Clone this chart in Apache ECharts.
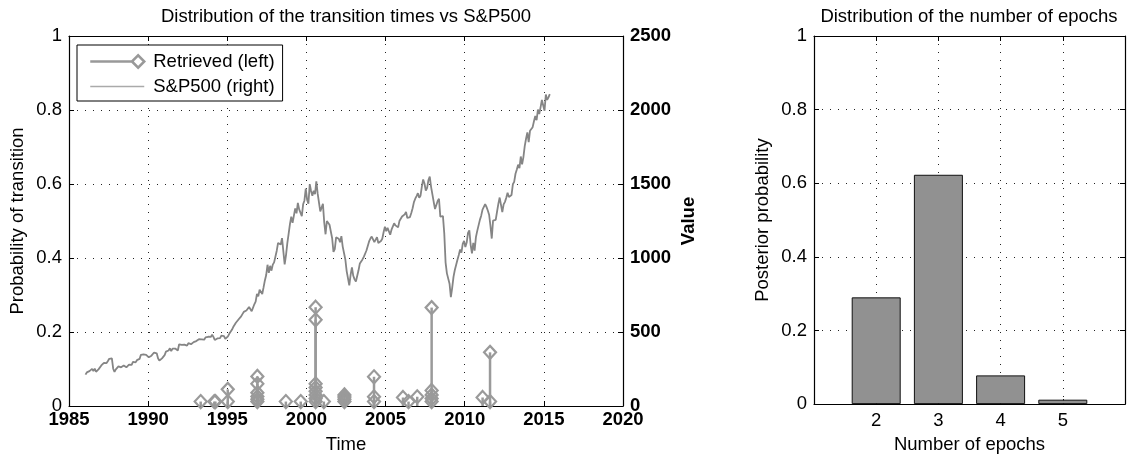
<!DOCTYPE html>
<html>
<head>
<meta charset="utf-8">
<script src="https://cdn.jsdelivr.net/npm/echarts@6/dist/echarts.min.js"></script>
<style>
html,body{margin:0;padding:0;background:#fff;}
#chart{width:1129px;height:459px;}
</style>
</head>
<body>
<div id="chart"></div>
<script>
// ---------------- DATA ----------------
const leftTitle = 'Distribution of the transition times vs S&P500';
const rightTitle = 'Distribution of the number of epochs';
const timeTicks = [1985, 1990, 1995, 2000, 2005, 2010, 2015, 2020];

// Retrieved transition times (stem plot, left axis)
const retrievedYears = [
  1993.32,
  1994.18, 1994.25,
  1995.03, 1995.03,
  1996.90, 1996.90, 1996.90, 1996.90, 1996.90, 1996.90,
  1998.70,
  1999.64,
  2000.58, 2000.58, 2000.58, 2000.58, 2000.58, 2000.58, 2000.58, 2000.58,
  2001.10,
  2002.40, 2002.40, 2002.40, 2002.40,
  2004.27, 2004.27, 2004.27,
  2006.10, 2006.45, 2007.00,
  2007.91, 2007.91, 2007.91, 2007.91, 2007.91,
  2011.13,
  2011.60, 2011.60
];
const retrievedProbs = [
  0.012,
  0.012, 0.012,
  0.012, 0.045,
  0.012, 0.018, 0.026, 0.036, 0.060, 0.080,
  0.012,
  0.012,
  0.012, 0.020, 0.030, 0.040, 0.050, 0.060, 0.233, 0.267,
  0.012,
  0.012, 0.018, 0.024, 0.030,
  0.012, 0.025, 0.079,
  0.023, 0.012, 0.025,
  0.012, 0.020, 0.030, 0.042, 0.266,
  0.023,
  0.012, 0.145
];

// S&P500 monthly closes (right axis), starting Jan 1986
const sp500StartYear = 1986;
const sp500Monthly = [
  211.8,226.9,238.9,235.5,247.4,250.8,236.1,252.9,231.3,244.0,249.2,242.2,
  274.1,284.2,291.7,288.4,290.1,304.0,318.7,329.8,321.8,251.8,230.3,247.1,
  257.1,267.8,258.9,261.3,262.2,273.5,272.0,261.5,271.9,279.0,273.7,277.7,
  297.5,288.9,294.9,309.6,320.5,318.0,346.1,351.5,349.2,340.4,346.0,353.4,
  329.1,331.9,339.9,330.8,361.2,358.0,356.2,322.6,306.1,304.0,322.2,330.2,
  343.9,367.1,375.2,375.3,389.8,371.2,387.8,395.4,387.9,392.5,375.2,417.1,
  408.8,412.7,403.7,415.0,415.4,408.1,424.2,414.0,417.8,418.7,431.4,435.7,
  438.8,443.4,451.7,440.2,450.2,450.5,448.1,463.6,458.9,467.8,461.8,466.5,
  481.6,467.1,445.8,450.9,456.5,444.3,458.3,475.5,462.7,472.4,453.7,459.3,
  470.4,487.4,500.7,514.7,533.4,544.8,562.1,561.9,584.4,581.5,605.4,615.9,
  636.0,640.4,645.5,654.2,669.1,670.6,640.0,652.0,687.3,705.3,757.0,740.7,
  786.2,790.8,757.1,801.3,848.3,885.1,954.3,899.5,947.3,914.6,955.4,970.4,
  980.3,1049.3,1101.8,1111.8,1090.8,1133.8,1120.7,957.3,1017.0,1098.7,1163.6,1229.2,
  1279.6,1238.3,1286.4,1335.2,1301.8,1372.7,1328.7,1320.4,1282.7,1362.9,1388.9,1469.3,
  1394.5,1366.4,1498.6,1452.4,1420.6,1454.6,1430.8,1517.7,1436.5,1429.4,1315.2,1320.3,
  1366.0,1239.9,1160.3,1249.5,1255.8,1224.4,1211.2,1133.6,1040.9,1059.8,1139.5,1148.1,
  1130.2,1106.7,1147.4,1076.9,1067.1,989.8,911.6,916.1,815.3,885.8,936.3,879.8,
  855.7,841.2,848.2,916.9,963.6,974.5,990.3,1008.0,996.0,1050.7,1058.2,1111.9,
  1131.1,1144.9,1126.2,1107.3,1120.7,1140.8,1101.7,1104.2,1114.6,1130.2,1173.8,1211.9,
  1181.3,1203.6,1180.6,1156.9,1191.5,1191.3,1234.2,1220.3,1228.8,1207.0,1249.5,1248.3,
  1280.1,1280.7,1294.9,1310.6,1270.1,1270.2,1276.7,1303.8,1335.9,1377.9,1400.6,1418.3,
  1438.2,1406.8,1420.9,1482.4,1530.6,1503.4,1455.3,1474.0,1526.8,1549.4,1481.1,1468.4,
  1378.6,1330.6,1322.7,1385.6,1400.4,1280.0,1267.4,1282.8,1166.4,968.8,896.2,903.3,
  825.9,735.1,797.9,872.8,919.1,919.3,987.5,1020.6,1057.1,1036.2,1095.6,1115.1,
  1073.9,1104.5,1169.4,1186.7,1089.4,1030.7,1101.6,1049.3,1141.2,1183.3,1180.6,1257.6,
  1286.1,1327.2,1325.8,1363.6,1345.2,1320.6,1292.3,1218.9,1131.4,1253.3,1247.0,1257.6,
  1312.4,1365.7,1408.5,1397.9,1310.3,1362.2,1379.3,1406.6,1440.7,1412.2,1416.2,1426.2,
  1498.1,1514.7,1569.2,1597.6,1630.7,1606.3,1685.7,1633.0,1681.6,1756.5,1805.8,1848.4,
  1782.6,1859.5,1872.3,1884.0,1923.6,1960.2,1930.7,2003.4,1972.3,2018.1,2067.6,2058.9,
  1995.0,2104.5,2067.9,2085.5,2107.4
];

// Number of epochs posterior
const epochCategories = [2, 3, 4, 5];
const epochProbs = [0.29, 0.623, 0.078, 0.012];

// ---------------- CHART ----------------
const FONT = '"Liberation Sans", Arial, Helvetica, sans-serif';
const FS = 18.5;
const dotted = { show: true, lineStyle: { color: '#222', width: 1, type: [1, 7] } };
const axisLineBlack = { show: true, onZero: false, lineStyle: { color: '#000', width: 1.2 } };
const tickIn = { show: true, inside: true, length: 5, lineStyle: { color: '#000', width: 1 } };
const plain = v => String(v);

const stemData = retrievedYears.map((x, i) => [x, retrievedProbs[i]]);
const spData = sp500Monthly.map((v, i) => [sp500StartYear + (i + 0.5) / 12, v]);
const barData = epochCategories.map((c, i) => [c, epochProbs[i]]);

const chart = echarts.init(document.getElementById('chart'), null, { renderer: 'canvas' });
chart.setOption({
  animation: false,
  backgroundColor: '#fff',
  textStyle: { fontFamily: FONT },
  graphic: [
    { type: 'text', x: 346, y: 7, style: { text: leftTitle, textAlign: 'center', textVerticalAlign: 'top', font: FS + 'px ' + FONT, fill: '#000' } },
    { type: 'text', x: 969, y: 7, style: { text: rightTitle, textAlign: 'center', textVerticalAlign: 'top', font: FS + 'px ' + FONT, fill: '#000' } }
  ],
  legend: {
    orient: 'vertical',
    left: 77, top: 45,
    padding: [7, 8, 5, 12],
    itemWidth: 54, itemHeight: 14, itemGap: 6,
    borderColor: '#000', borderWidth: 1,
    backgroundColor: '#fff',
    textStyle: { fontSize: FS, color: '#000', fontFamily: FONT, padding: [0, 0, 0, 4] },
    data: [
      { name: 'Retrieved (left)', icon: 'path://M0,7 L41,7 L47,1 L53,7 L47,13 L41,7',
        itemStyle: { color: 'rgba(0,0,0,0)', borderColor: '#999', borderWidth: 2.5 } },
      { name: 'S&P500 (right)', lineStyle: { color: '#aaa', width: 1.5 },
        itemStyle: { color: 'rgba(0,0,0,0)', borderWidth: 0, opacity: 0 } }
    ]
  },
  grid: [
    { left: 69, top: 36, width: 554, height: 371, containLabel: false },
    { left: 814, top: 36, width: 311, height: 371, containLabel: false }
  ],
  xAxis: [
    { gridIndex: 0, type: 'value', min: timeTicks[0], max: timeTicks[timeTicks.length - 1], interval: 5,
      position: 'bottom', axisLine: axisLineBlack, axisTick: tickIn,
      axisLabel: { fontSize: FS, fontWeight: 'bold', color: '#000', margin: 4, fontFamily: FONT, formatter: plain },
      splitLine: dotted,
      name: 'Time', nameLocation: 'middle', nameGap: 29,
      nameTextStyle: { fontSize: FS, color: '#000', fontFamily: FONT } },
    { gridIndex: 0, type: 'value', min: timeTicks[0], max: timeTicks[timeTicks.length - 1], interval: 5,
      position: 'top', axisLine: axisLineBlack, axisTick: tickIn, axisLabel: { show: false }, splitLine: { show: false } },
    { gridIndex: 1, type: 'value', min: 1, max: 6, interval: 1,
      position: 'bottom', axisLine: axisLineBlack, axisTick: tickIn,
      axisLabel: { fontSize: FS, color: '#000', margin: 7, fontFamily: FONT,
        formatter: v => (epochCategories.indexOf(v) >= 0 ? String(v) : '') },
      splitLine: dotted,
      name: 'Number of epochs', nameLocation: 'middle', nameGap: 29,
      nameTextStyle: { fontSize: FS, color: '#000', fontFamily: FONT } },
    { gridIndex: 1, type: 'value', min: 1, max: 6, interval: 1,
      position: 'top', axisLine: axisLineBlack, axisTick: tickIn, axisLabel: { show: false }, splitLine: { show: false } }
  ],
  yAxis: [
    { gridIndex: 0, type: 'value', min: 0, max: 1, interval: 0.2, position: 'left',
      axisLine: axisLineBlack, axisTick: tickIn,
      axisLabel: { fontSize: FS, color: '#000', margin: 7, fontFamily: FONT },
      splitLine: dotted,
      name: 'Probability of transition', nameLocation: 'middle', nameGap: 42, nameRotate: 90,
      nameTextStyle: { fontSize: FS, color: '#000', fontFamily: FONT } },
    { gridIndex: 0, type: 'value', min: 0, max: 2500, interval: 500, position: 'right',
      axisLine: axisLineBlack, axisTick: tickIn,
      axisLabel: { fontSize: FS, fontWeight: 'bold', color: '#000', margin: 7, fontFamily: FONT, formatter: plain },
      splitLine: { show: false },
      name: 'Value', nameLocation: 'middle', nameGap: 56, nameRotate: 90,
      nameTextStyle: { fontSize: FS, fontWeight: 'bold', color: '#000', fontFamily: FONT } },
    { gridIndex: 1, type: 'value', min: 0, max: 1, interval: 0.2, position: 'left',
      axisLine: axisLineBlack, axisTick: tickIn,
      axisLabel: { fontSize: FS, color: '#000', margin: 7, fontFamily: FONT },
      splitLine: dotted,
      name: 'Posterior probability', nameLocation: 'middle', nameGap: 42, nameRotate: 90,
      nameTextStyle: { fontSize: FS, color: '#000', fontFamily: FONT } },
    { gridIndex: 1, type: 'value', min: 0, max: 1, interval: 0.2, position: 'right',
      axisLine: axisLineBlack, axisTick: tickIn, axisLabel: { show: false }, splitLine: { show: false } }
  ],
  series: [
    { name: 'S&P500 (right)', type: 'line', xAxisIndex: 0, yAxisIndex: 1, data: spData,
      showSymbol: false, symbol: 'none', lineStyle: { color: '#858585', width: 1.8 }, z: 2 },
    { name: 'stems', type: 'custom', xAxisIndex: 0, yAxisIndex: 0, data: stemData,
      encode: { x: 0, y: 1 }, z: 3,
      renderItem: function (params, api) {
        const x = api.value(0), y = api.value(1);
        const p0 = api.coord([x, 0]);
        const p1 = api.coord([x, y]);
        return { type: 'line', shape: { x1: p0[0], y1: p0[1], x2: p1[0], y2: p1[1] },
          style: { stroke: '#9a9a9a', lineWidth: 2.5 } };
      } },
    { name: 'Retrieved (left)', type: 'scatter', xAxisIndex: 0, yAxisIndex: 0, data: stemData,
      symbol: 'diamond', symbolSize: [12, 13], z: 4,
      itemStyle: { color: 'rgba(255,255,255,0)', borderColor: '#9a9a9a', borderWidth: 2.2, opacity: 1 } },
    { name: 'epochs', type: 'bar', xAxisIndex: 2, yAxisIndex: 2, data: barData,
      barWidth: 49, itemStyle: { color: '#919191', borderColor: '#111', borderWidth: 1 } }
  ]
});
</script>
</body>
</html>
